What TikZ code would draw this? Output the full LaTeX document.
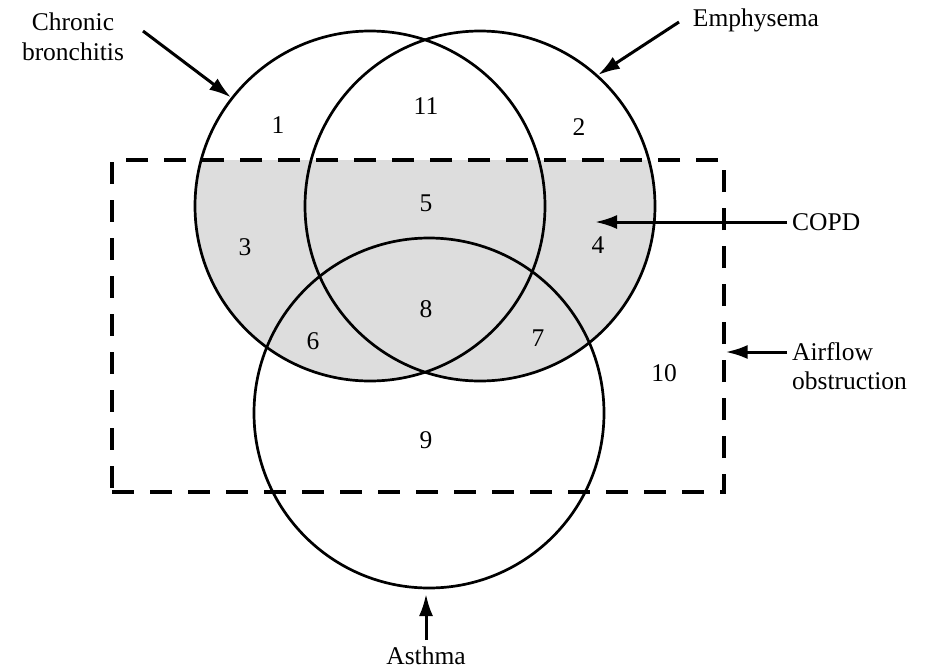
\documentclass[tikz,border=0pt]{standalone}
\usepackage{fontspec}
\setmainfont{Liberation Serif}
\usetikzlibrary{arrows.meta}
\begin{document}
\begin{tikzpicture}[x=1pt, y=-1pt, >={Latex[length=22pt,width=14pt]}]

\tikzstyle{ring}=[draw, circle, line width=2.7pt, minimum size=350pt, inner sep=0pt]
\tikzstyle{lbl}=[font=\fontsize{25.5}{29.5}\selectfont, align=center, inner sep=2pt]
\tikzstyle{num}=[font=\fontsize{25.5}{29.5}\selectfont, inner sep=0pt]
\tikzstyle{ptr}=[->, line width=3pt]

\useasboundingbox (0,0) rectangle (931,670);

% --- shaded COPD area: top circles inside the box ---
\begin{scope}
  \clip (112,160) rectangle (724,492);
  \fill[gray!27] (370,206) circle (175) (480,206) circle (175);
\end{scope}

% --- circles ---
\node[ring] (cb) at (370,206) {};
\node[ring] (em) at (480,206) {};
\node[ring] (as) at (429,413) {};

% --- airflow obstruction box ---
\node[draw, line width=3.2pt, dash pattern=on 22pt off 16pt, minimum width=612pt, minimum height=332pt, inner sep=0pt] (ao) at (418,326) {};

% --- region numbers ---
\node[num] (n1) at (278,125) {1};
\node[num] (n11) at (426,106) {11};
\node[num] (n2) at (579,127) {2};
\node[num] (n5) at (426,203) {5};
\node[num] (n3) at (245,247) {3};
\node[num] (n4) at (598,245) {4};
\node[num] (n8) at (426,309) {8};
\node[num] (n6) at (313,341) {6};
\node[num] (n7) at (538,338) {7};
\node[num] (n10) at (664,373) {10};
\node[num] (n9) at (426,440) {9};

% --- labels ---
\node[lbl] (cbl) at (73,37) {Chronic\\bronchitis};
\node[lbl] (eml) at (756,20) {Emphysema};
\node[lbl, anchor=west] (copd) at (790,222) {COPD};
\node[lbl, anchor=west, align=left] (afl) at (790,366) {Airflow\\obstruction};
\node[lbl] (asl) at (426,656) {Asthma};

% --- arrows ---
\coordinate (cbs) at (143,31);
\coordinate (ems) at (679,22);
\coordinate (copds) at (787,222);
\coordinate (copdt) at (595,222);
\coordinate (afs) at (787,352);
\coordinate (aft) at (ao.east |- afs);
\coordinate (ass) at (426,640);
\coordinate (ast) at (426,594);

\draw[ptr] (cbs) -- (cb.142);
\draw[ptr] (ems) -- (em.48);
\draw[ptr] (copds) -- (copdt);
\draw[ptr] (afs) -- (aft);
\draw[ptr] (ass) -- (ast);

\end{tikzpicture}
\end{document}
